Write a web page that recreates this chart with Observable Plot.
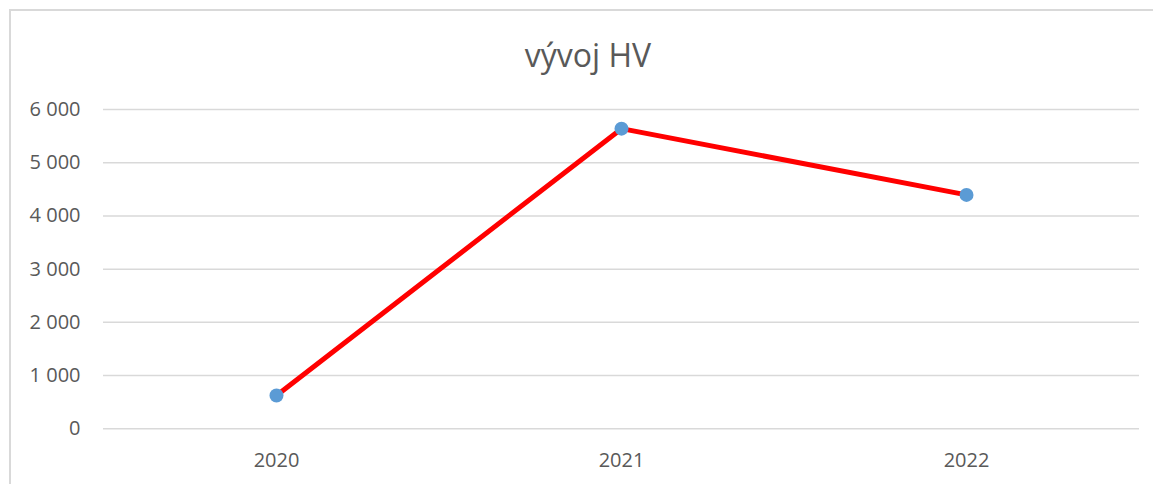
<!DOCTYPE html>
<html>
<head>
<meta charset="utf-8">
<script src="https://cdn.jsdelivr.net/npm/d3@7"></script>
<script src="https://cdn.jsdelivr.net/npm/@observablehq/plot@0.6"></script>
<style>
  html, body { margin: 0; padding: 0; background: #fff; overflow: hidden; }
  #wrap { position: relative; width: 1153px; height: 484px; font-family: "Open Sans", Lato, sans-serif; }
  #frame { position: absolute; left: 9px; top: 9px; width: 1200px; height: 600px; border: 2px solid #d9d9d9; box-sizing: border-box; }
  #title { position: absolute; left: 388px; width: 400px; top: 33px; text-align: center; font-size: 32px; color: #595959; line-height: 44px; }
  #chart { position: absolute; left: 0; top: 90px; }
</style>
</head>
<body>
<div id="wrap">
  <div id="frame"></div>
  <div id="title">vývoj HV</div>
  <div id="chart"></div>
</div>
<script>
const years = ["2020", "2021", "2022"];
const values = [625, 5640, 4395];
const yTicks = [0, 1000, 2000, 3000, 4000, 5000, 6000];

const data = years.map((y, i) => ({year: y, value: values[i]}));
const fmt = d3.formatLocale({decimal: ",", thousands: " ", grouping: [3], currency: ["", ""]}).format(",");

const chart = Plot.plot({
  width: 1153,
  height: 394,
  marginLeft: 103,
  marginRight: 14,
  marginTop: 19,
  marginBottom: 55.7,
  style: {fontFamily: "'Open Sans', Lato, sans-serif", fontSize: "20px", color: "#595959", background: "transparent"},
  x: {type: "point", domain: years, padding: 0.5, label: null},
  y: {domain: [0, 6000], label: null},
  marks: [
    Plot.gridY(yTicks, {stroke: "#d9d9d9", strokeOpacity: 1, strokeWidth: 1.5}),
    Plot.axisY(yTicks, {tickSize: 0, tickPadding: 23, tickFormat: fmt, fill: "#595959", fontSize: 20, label: null}),
    Plot.axisX({tickSize: 0, tickPadding: 24, fill: "#595959", fontSize: 20, label: null}),
    Plot.line(data, {x: "year", y: "value", stroke: "#ff0000", strokeWidth: 5}),
    Plot.dot(data, {x: "year", y: "value", r: 7, fill: "#5b9bd5", stroke: null})
  ]
});
document.getElementById("chart").appendChild(chart);
</script>
</body>
</html>
